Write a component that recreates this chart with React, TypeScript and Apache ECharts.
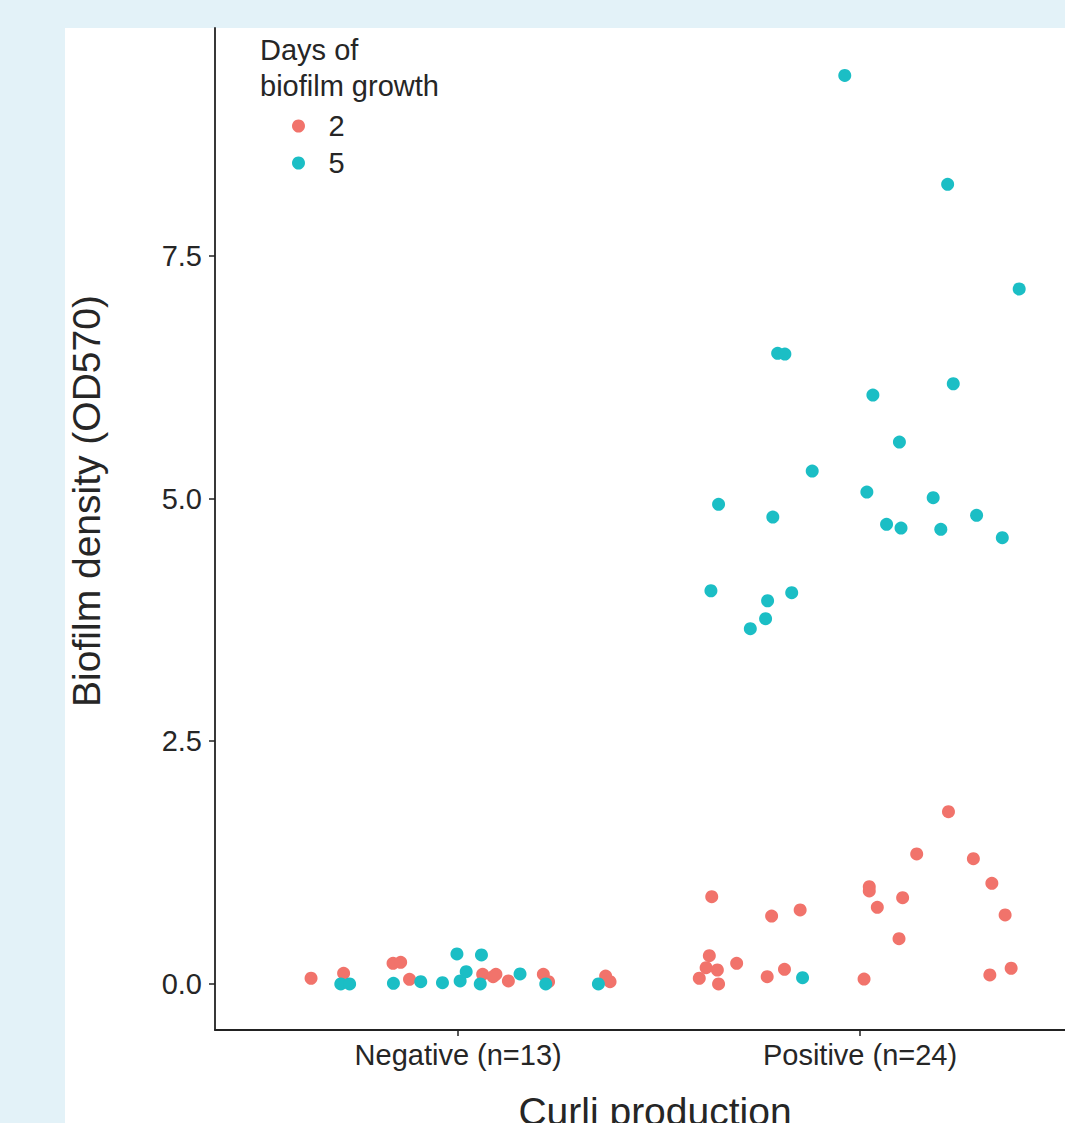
import React, { useEffect, useRef } from "react";
import * as echarts from "echarts";

// Category positions on the jittered x axis and their labels
const categoryTicks = [1, 2];
const categoryLabels = ["Negative (n=13)", "Positive (n=24)"];
const yTicks = [0, 2.5, 5, 7.5];
const dayGroups = ["2", "5"];

// [jittered x position, biofilm density OD570]
const negativeDay2 = [
  [0.634, 0.059], [0.715, 0.11], [0.838, 0.213], [0.857, 0.223], [0.879, 0.048],
  [1.061, 0.1], [1.094, 0.1], [1.087, 0.075], [1.125, 0.031], [1.212, 0.1],
  [1.225, 0.024], [1.367, 0.082], [1.378, 0.024],
];
const negativeDay5 = [
  [0.708, 0.0], [0.73, 0.0], [0.839, 0.007], [0.907, 0.024], [0.961, 0.013],
  [0.997, 0.309], [1.005, 0.031], [1.02, 0.127], [1.058, 0.299], [1.055, 0.0],
  [1.154, 0.103], [1.218, 0.0], [1.349, 0.0],
];
const positiveDay2 = [
  [2.22, 1.774], [2.141, 1.339], [2.282, 1.29], [2.328, 1.037], [1.631, 0.899],
  [2.023, 1.002], [2.023, 0.958], [2.106, 0.889], [2.043, 0.79], [1.851, 0.762],
  [1.78, 0.7], [2.361, 0.711], [2.097, 0.467], [1.625, 0.291], [1.617, 0.168],
  [1.645, 0.144], [1.693, 0.213], [1.6, 0.059], [1.648, 0.0], [1.769, 0.075],
  [1.812, 0.151], [2.01, 0.051], [2.323, 0.093], [2.376, 0.162],
];
const positiveDay5 = [
  [1.962, 9.358], [2.218, 8.236], [2.396, 7.158], [1.795, 6.495], [1.813, 6.488],
  [2.232, 6.182], [2.032, 6.066], [2.098, 5.582], [1.881, 5.283], [2.017, 5.067],
  [2.182, 5.008], [1.648, 4.94], [1.783, 4.809], [2.066, 4.734], [2.102, 4.696],
  [2.201, 4.683], [2.29, 4.827], [2.354, 4.596], [1.629, 4.05], [1.77, 3.947],
  [1.83, 4.03], [1.765, 3.762], [1.727, 3.659], [1.857, 0.065],
];

const RED = "#f1736b";
const TEAL = "#1bbec5";
const FONT = "'Liberation Sans', Arial, Helvetica, sans-serif";
const AXIS = "#222222";
const TEXT = "#262626";

export default function App() {
  const ref = useRef<HTMLDivElement>(null);

  useEffect(() => {
    if (!ref.current) return;
    const chart = echarts.init(ref.current, undefined, { renderer: "svg" });
    chart.setOption({
      animation: false,
      backgroundColor: "#e3f2f8",
      textStyle: { fontFamily: FONT },
      grid: { left: 215, top: 28, width: 850, height: 1002, containLabel: false },
      xAxis: {
        type: "value",
        min: 0.395,
        max: 2.51,
        axisLine: { show: true, onZero: false, lineStyle: { color: AXIS, width: 1.8 } },
        axisTick: { show: true, customValues: categoryTicks, length: 6, lineStyle: { color: AXIS, width: 1.5 } },
        axisLabel: {
          show: true,
          customValues: categoryTicks,
          margin: 10,
          fontSize: 29,
          color: TEXT,
          fontFamily: FONT,
          formatter: (v: number) => categoryLabels[Math.round(v) - 1] ?? "",
        },
        splitLine: { show: false },
      },
      yAxis: {
        type: "value",
        min: -0.474,
        max: 9.846,
        axisLine: { show: true, onZero: false, lineStyle: { color: AXIS, width: 1.8 } },
        axisTick: { show: true, customValues: yTicks, length: 6, lineStyle: { color: AXIS, width: 1.5 } },
        axisLabel: {
          show: true,
          customValues: yTicks,
          margin: 13,
          fontSize: 29,
          color: TEXT,
          fontFamily: FONT,
          formatter: (v: number) => v.toFixed(1),
        },
        splitLine: { show: false },
      },
      legend: {
        orient: "vertical",
        left: 292,
        top: 111,
        padding: 0,
        itemWidth: 50,
        itemHeight: 13,
        itemGap: 7,
        icon: "circle",
        data: dayGroups,
        textStyle: { fontSize: 29, color: TEXT, fontFamily: FONT, lineHeight: 30 },
      },
      graphic: [
        {
          type: "rect",
          z: -100,
          silent: true,
          shape: { x: 65, y: 28, width: 1000, height: 1095 },
          style: { fill: "#ffffff" },
        },
        {
          type: "text",
          x: 260,
          y: 32,
          silent: true,
          style: {
            text: "Days of\nbiofilm growth",
            font: `29px ${FONT}`,
            fill: TEXT,
            lineHeight: 36,
            align: "left",
            verticalAlign: "top",
          },
        },
        {
          type: "text",
          x: 86,
          y: 501,
          rotation: Math.PI / 2,
          silent: true,
          style: {
            text: "Biofilm density (OD570)",
            font: `39px ${FONT}`,
            fill: TEXT,
            align: "center",
            verticalAlign: "middle",
          },
        },
        {
          type: "text",
          x: 655,
          y: 1111,
          silent: true,
          style: {
            text: "Curli production",
            font: `39px ${FONT}`,
            fill: TEXT,
            align: "center",
            verticalAlign: "middle",
          },
        },
      ],
      series: [
        {
          name: dayGroups[0],
          type: "scatter",
          symbol: "circle",
          symbolSize: 13,
          itemStyle: { color: RED, opacity: 1 },
          data: negativeDay2.concat(positiveDay2),
        },
        {
          name: dayGroups[1],
          type: "scatter",
          symbol: "circle",
          symbolSize: 13,
          itemStyle: { color: TEAL, opacity: 1 },
          data: negativeDay5.concat(positiveDay5),
        },
      ],
    });
    return () => chart.dispose();
  }, []);

  return (
    <div
      ref={ref}
      style={{ position: "absolute", left: 0, top: 0, width: 1065, height: 1123 }}
    />
  );
}
